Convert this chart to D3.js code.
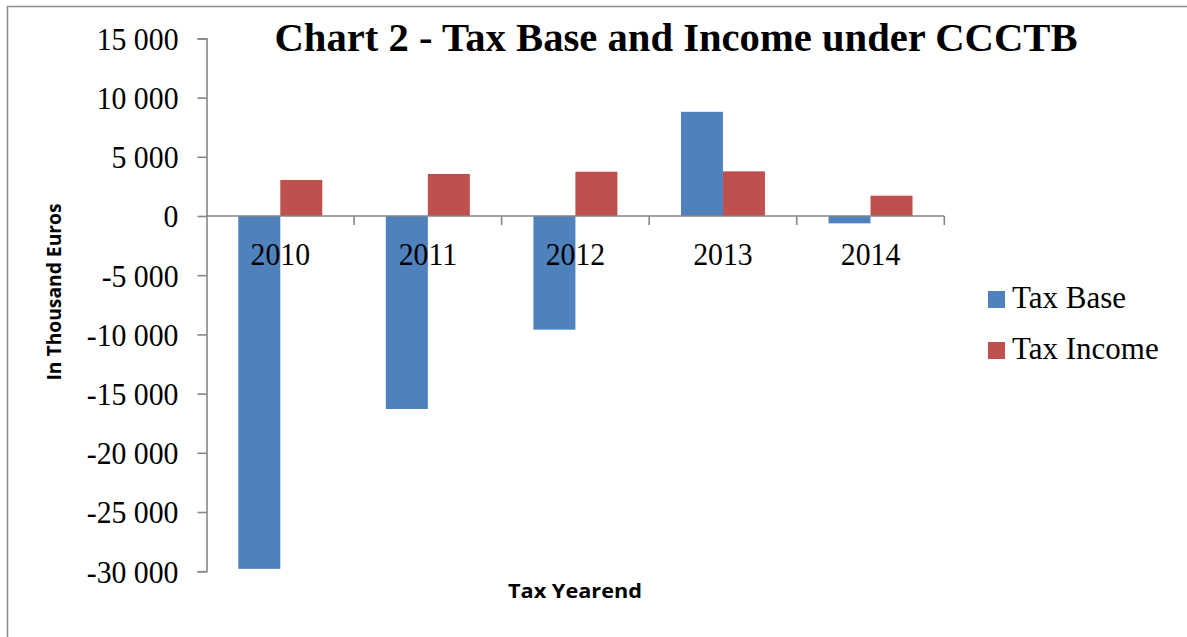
<!DOCTYPE html>
<html>
<head>
<meta charset="utf-8">
<script src="https://cdn.jsdelivr.net/npm/d3@7"></script>
<style>
  html, body { margin: 0; padding: 0; background: #fff; overflow: hidden; }
  svg { display: block; }
</style>
</head>
<body>
<svg id="chart" width="1187" height="637"></svg>
<script>
const years = ["2010", "2011", "2012", "2013", "2014"];
const seriesNames = ["Tax Base", "Tax Income"];
const taxBase = [-29800, -16300, -9600, 8800, -620];
const taxIncome = [3040, 3550, 3740, 3770, 1715];
const yTicks = [15000, 10000, 5000, 0, -5000, -10000, -15000, -20000, -25000, -30000];
const colors = ["#4F81BD", "#C0504D"];
const titleText = "Chart 2 - Tax Base and Income under CCCTB";
const yTitle = "In Thousand Euros";
const xTitle = "Tax Yearend";

const svg = d3.select("#chart");
const axisColor = "#868686";

// outer border (top and left edges only visible)
svg.append("path")
  .attr("d", "M7.5,637 L7.5,6.5 L1187,6.5")
  .attr("fill", "none").attr("stroke", "#8c8c8c").attr("stroke-width", 1.5);

const x = d3.scaleBand().domain(years).range([206.5, 944.3]).paddingInner(0).paddingOuter(0);
const x1 = d3.scaleBand().domain(seriesNames).range([0, x.bandwidth()]).paddingInner(0).paddingOuter(0.757);
const y = d3.scaleLinear().domain([-30000, 15000]).range([571.2, 38.4]);

const locale = d3.formatLocale({decimal: ",", thousands: "\u00a0", grouping: [3], currency: ["", ""], minus: "-"});
const fmt = locale.format(",d");

const data = years.map((yr, i) => ({year: yr, values: [
  {name: seriesNames[0], value: taxBase[i]},
  {name: seriesNames[1], value: taxIncome[i]}
]}));

// bars
const groups = svg.append("g").selectAll("g").data(data).join("g")
  .attr("transform", d => `translate(${x(d.year)},0)`);
groups.selectAll("rect").data(d => d.values).join("rect")
  .attr("x", d => x1(d.name))
  .attr("width", x1.bandwidth())
  .attr("y", d => y(Math.max(0, d.value)))
  .attr("height", d => Math.abs(y(d.value) - y(0)))
  .attr("fill", (d, i) => colors[i]);

// y axis
const yAxis = svg.append("g")
  .attr("transform", "translate(206.5,0)")
  .call(d3.axisLeft(y).tickValues(yTicks).tickFormat(fmt).tickSize(9).tickPadding(19));
yAxis.select(".domain").attr("stroke", axisColor).attr("stroke-width", 1.6);
yAxis.selectAll(".tick line").attr("stroke", axisColor).attr("stroke-width", 1.6);
yAxis.selectAll(".tick text")
  .attr("fill", "#000")
  .style("font-family", "'Liberation Serif', 'Times New Roman', serif")
  .style("font-size", "32px")
  .attr("dy", "0.34em");
yAxis.selectAll(".tick text").each(function() {
  const w = this.getComputedTextLength();
  d3.select(this).attr("textLength", w * 0.93).attr("lengthAdjust", "spacingAndGlyphs");
});

// x axis line at zero
const xAxis = svg.append("g").attr("transform", `translate(0,${y(0)})`);
xAxis.append("line").attr("x1", 206.5).attr("x2", 944.3)
  .attr("stroke", axisColor).attr("stroke-width", 1.6);
const boundaries = years.map(d => x(d) + x.bandwidth());
xAxis.selectAll("line.tk").data(boundaries).join("line")
  .attr("class", "tk")
  .attr("x1", d => d).attr("x2", d => d)
  .attr("y1", 0).attr("y2", 9)
  .attr("stroke", axisColor).attr("stroke-width", 1.6);

// category labels
svg.append("g").selectAll("text").data(years).join("text")
  .attr("x", d => x(d) + x.bandwidth() / 2)
  .attr("y", 265)
  .attr("text-anchor", "middle")
  .style("font-family", "'Liberation Serif', 'Times New Roman', serif")
  .style("font-size", "32px")
  .text(d => d)
  .each(function() {
    const w = this.getComputedTextLength();
    d3.select(this).attr("textLength", w * 0.93).attr("lengthAdjust", "spacingAndGlyphs");
  });

// title
svg.append("text")
  .attr("x", 676).attr("y", 51)
  .attr("text-anchor", "middle")
  .style("font-family", "'Liberation Serif', 'Times New Roman', serif")
  .style("font-weight", "bold")
  .style("font-size", "40px")
  .attr("textLength", 803).attr("lengthAdjust", "spacingAndGlyphs")
  .text(titleText);

// y title
svg.append("text")
  .attr("transform", "translate(61,292) rotate(-90)")
  .attr("text-anchor", "middle")
  .style("font-family", "'Open Sans', 'Liberation Sans', sans-serif")
  .style("font-weight", "bold")
  .style("font-size", "20px")
  .attr("textLength", 177).attr("lengthAdjust", "spacingAndGlyphs")
  .text(yTitle);

// x title
svg.append("text")
  .attr("x", 575).attr("y", 598)
  .attr("text-anchor", "middle")
  .style("font-family", "'Open Sans', 'Liberation Sans', sans-serif")
  .style("font-weight", "bold")
  .style("font-size", "20px")
  .attr("textLength", 134).attr("lengthAdjust", "spacingAndGlyphs")
  .text(xTitle);

// legend
const legend = svg.append("g").selectAll("g").data(seriesNames).join("g")
  .attr("transform", (d, i) => `translate(988,${291 + i * 51})`);
legend.append("rect").attr("width", 17).attr("height", 17).attr("fill", (d, i) => colors[i]);
legend.append("text")
  .attr("x", 24).attr("y", 17)
  .style("font-family", "'Liberation Serif', 'Times New Roman', serif")
  .style("font-size", "31px")
  .text(d => d);
</script>
</body>
</html>
